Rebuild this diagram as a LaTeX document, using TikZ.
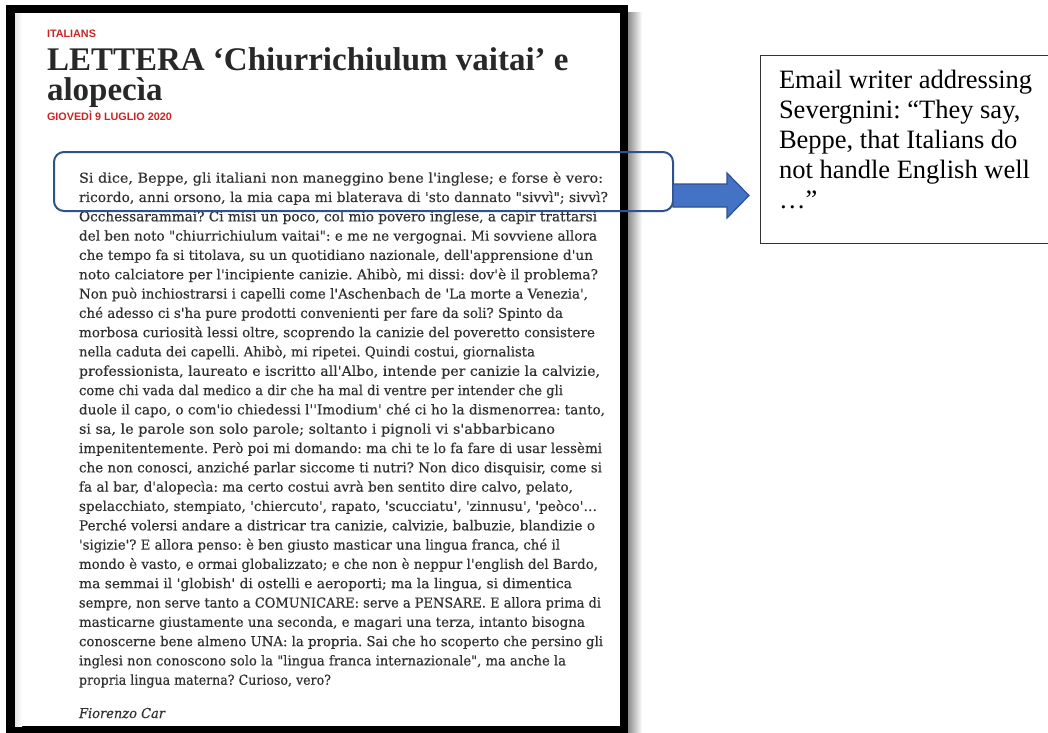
\documentclass[tikz,border=0pt]{standalone}
\usepackage{fontspec}
\usepackage{graphicx}
\newfontfamily\artfont{DejaVu Serif}[FakeBold=0.4]
\newfontfamily\headfont{Liberation Serif}
\newfontfamily\labfont{Liberation Sans}
\newfontfamily\notefont{Liberation Serif}
\definecolor{redlab}{RGB}{200,38,38}
\definecolor{ink}{RGB}{48,48,48}
\definecolor{headink}{RGB}{40,40,40}
\definecolor{arrowfill}{RGB}{68,114,196}
\definecolor{arrowline}{RGB}{47,82,143}
\newcommand\fl[2]{\resizebox{#1pt}{\height}{#2}}
\begin{document}
\frenchspacing
\begin{tikzpicture}[x=1pt,y=-1pt,
  every node/.style={inner sep=0pt, outer sep=0pt},
  labeltext/.style={font={\labfont\bfseries\fontsize{10.8}{13}\selectfont}, text=redlab, anchor=base west},
  headtext/.style={font={\headfont\bfseries\fontsize{33}{30}\selectfont}, text=headink, align=left, anchor=north west},
  arttext/.style={font={\artfont\fontsize{13.6}{19.31}\selectfont}, text=ink, align=left, anchor=north west},
  hlbox/.style={draw=arrowline, line width=2pt, rounded corners=10pt, anchor=north west},
  bigarrow/.style={fill=arrowfill, draw=arrowline, line width=1.2pt, line join=miter},
  notebox/.style={draw=black!80, line width=0.9pt, anchor=north west, minimum width=292pt, minimum height=188pt},
  notetext/.style={font={\notefont\fontsize{26.5}{30}\selectfont}, text=black, align=left, anchor=north west}
]
\useasboundingbox (0,0) rectangle (1048,732);
\fill[white] (0,0) rectangle (1048,732);
% screenshot frame with shadow
\shade[left color=black!45, right color=white] (628,12) rectangle (642,740);
\fill[black] (6,5) rectangle (628,740);
\fill[white] (15,13) rectangle (620,726);
\shade[left color=black!10, right color=white] (15,13) rectangle (22,726);

\node[labeltext] (sec) at (47,37) {ITALIANS};
\node[headtext] (title) at (47,47.5) {LETTERA ‘Chiurrichiulum vaitai’ e\\alopecìa};
\node[labeltext] (date) at (47,120) {GIOVEDÌ 9 LUGLIO 2020};

\node[arttext] (body) at (79,171.8) {\fl{524}{Si dice, Beppe, gli italiani non maneggino bene l'inglese; e forse è vero:}\\
\fl{529}{ricordo, anni orsono, la mia capa mi blaterava di 'sto dannato "sivvì"; sivvì?}\\
\fl{518}{Occhessarammai? Ci misi un poco, col mio povero inglese, a capir trattarsi}\\
\fl{518}{del ben noto "chiurrichiulum vaitai": e me ne vergognai. Mi sovviene allora}\\
\fl{514}{che tempo fa si titolava, su un quotidiano nazionale, dell'apprensione d'un}\\
\fl{519}{noto calciatore per l'incipiente canizie. Ahibò, mi dissi: dov'è il problema?}\\
\fl{509}{Non può inchiostrarsi i capelli come l'Aschenbach de 'La morte a Venezia',}\\
\fl{484}{ché adesso ci s'ha pure prodotti convenienti per fare da soli? Spinto da}\\
\fl{516}{morbosa curiosità lessi oltre, scoprendo la canizie del poveretto consistere}\\
\fl{456}{nella caduta dei capelli. Ahibò, mi ripetei. Quindi costui, giornalista}\\
\fl{521}{professionista, laureato e iscritto all'Albo, intende per canizie la calvizie,}\\
\fl{484}{come chi vada dal medico a dir che ha mal di ventre per intender che gli}\\
\fl{526}{duole il capo, o com'io chiedessi l''Imodium' ché ci ho la dismenorrea: tanto,}\\
\fl{476}{si sa, le parole son solo parole; soltanto i pignoli vi s'abbarbicano}\\
\fl{523}{impenitentemente. Però poi mi domando: ma chi te lo fa fare di usar lessèmi}\\
\fl{523}{che non conosci, anziché parlar siccome ti nutri? Non dico disquisir, come si}\\
\fl{494}{fa al bar, d'alopecìa: ma certo costui avrà ben sentito dire calvo, pelato,}\\
\fl{518}{spelacchiato, stempiato, 'chiercuto', rapato, 'scucciatu', 'zinnusu', 'peòco'…}\\
\fl{516}{Perché volersi andare a districar tra canizie, calvizie, balbuzie, blandizie o}\\
\fl{481}{'sigizie'? E allora penso: è ben giusto masticar una lingua franca, ché il}\\
\fl{519}{mondo è vasto, e ormai globalizzato; e che non è neppur l'english del Bardo,}\\
\fl{493}{ma semmai il 'globish' di ostelli e aeroporti; ma la lingua, si dimentica}\\
\fl{522}{sempre, non serve tanto a COMUNICARE: serve a PENSARE. E allora prima di}\\
\fl{506}{masticarne giustamente una seconda, e magari una terza, intanto bisogna}\\
\fl{524}{conoscerne bene almeno UNA: la propria. Sai che ho scoperto che persino gli}\\
\fl{487}{inglesi non conoscono solo la "lingua franca internazionale", ma anche la}\\
\fl{252}{propria lingua materna? Curioso, vero?}};
\node[font={\artfont\itshape\fontsize{13.6}{16}\selectfont}, text=ink, anchor=base west] (sign) at (79,718) {\fl{86}{Fiorenzo Car}};

\node[hlbox, minimum width=619pt, minimum height=59pt] (hl) at (54,152) {};
\node[notebox] (note) at (760,55) {};
\draw[bigarrow] ([yshift=-2.5pt]hl.east) -- ++(54,0) -- ++(0,-11) -- ++(22,22.5)
  -- ++(-22,22.5) -- ++(0,-11) -- ++(-54,0) -- cycle;
\node[notetext] (notetxt) at (779,70) {Email writer addressing\\Severgnini: “They say,\\Beppe, that Italians do\\not handle English well\\…”};
\end{tikzpicture}
\end{document}
